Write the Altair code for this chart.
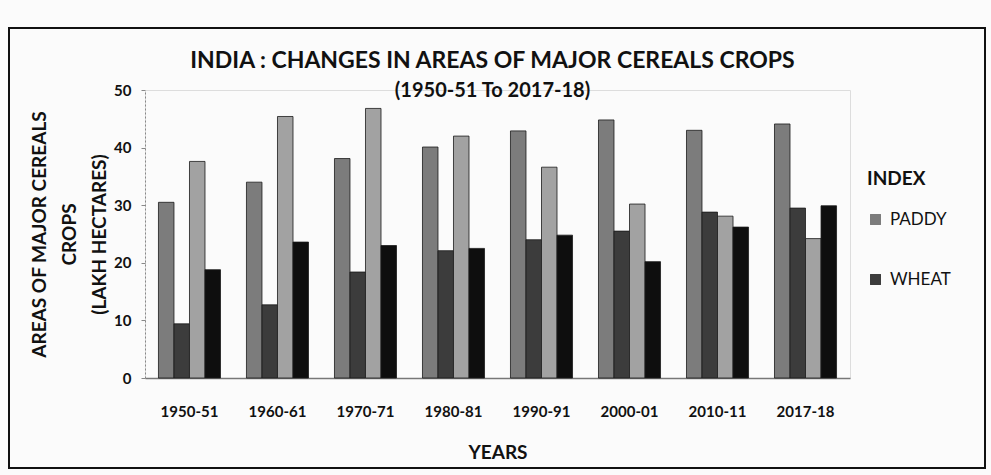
import altair as alt
import pandas as pd

years = ["1950-51", "1960-61", "1970-71", "1980-81", "1990-91", "2000-01", "2010-11", "2017-18"]
series = ["PADDY", "WHEAT", "COARSE CEREALS", "PULSES"]
paddy = [30.5, 34.0, 38.1, 40.1, 42.9, 44.8, 43.0, 44.1]
wheat = [9.4, 12.7, 18.4, 22.1, 24.0, 25.5, 28.8, 29.5]
coarse = [37.6, 45.4, 46.8, 42.0, 36.6, 30.2, 28.1, 24.2]
pulses = [18.8, 23.6, 23.0, 22.5, 24.8, 20.2, 26.2, 29.9]
colors = ["#7c7c7c", "#3c3c3c", "#a2a2a2", "#0e0e0e"]

rows = []
for i, y in enumerate(years):
    for s, vals in zip(series, [paddy, wheat, coarse, pulses]):
        rows.append({"year": y, "crop": s, "area": vals[i]})
df = pd.DataFrame(rows)

FONT = "Lato"

bars = alt.Chart(df).mark_bar(stroke="#1a1a1a", strokeWidth=0.8).encode(
    x=alt.X("year:N", sort=years,
            scale=alt.Scale(paddingInner=0.295, paddingOuter=0.153),
            axis=alt.Axis(title="YEARS", labelAngle=0, labelFont=FONT, labelFontSize=15,
                          labelFontWeight="bold", labelColor="#111", labelPadding=26,
                          ticks=False, domainColor="#777", domainWidth=1.5,
                          titleFont=FONT, titleFontSize=19, titleFontWeight="bold",
                          titleColor="#111", titlePadding=24)),
    xOffset=alt.XOffset("crop:N", scale=alt.Scale(domain=series, paddingInner=0, paddingOuter=0)),
    y=alt.Y("area:Q", scale=alt.Scale(domain=[0, 50]),
            axis=alt.Axis(values=[0, 10, 20, 30, 40, 50], grid=False,
                          title=["AREAS OF MAJOR CEREALS", "CROPS", "(LAKH HECTARES)"],
                          titleFont=FONT, titleFontSize=19, titleFontWeight="bold",
                          titleColor="#111", titleAngle=-90, titleAlign="center",
                          titleBaseline="top", titleX=-115, titleY=144, titleLineHeight=30,
                          labelFont=FONT, labelFontSize=15, labelFontWeight="bold",
                          labelColor="#111", labelPadding=10, tickSize=4, tickColor="#888",
                          domainColor="#888", domainDash=[2, 2])),
    color=alt.Color("crop:N", scale=alt.Scale(domain=series, range=colors),
                    legend=alt.Legend(values=["PADDY", "WHEAT"], title="INDEX",
                                      orient="none", legendX=722, legendY=80,
                                      titleFont=FONT, titleFontSize=19, titleFontWeight="bold",
                                      titleColor="#111", titlePadding=22,
                                      labelFont=FONT, labelFontSize=17, labelColor="#111",
                                      labelFontWeight="normal",
                                      symbolType="square", symbolSize=120, symbolStrokeWidth=0,
                                      symbolOpacity=1,
                                      rowPadding=42, labelOffset=6)),
)

frame = alt.Chart(pd.DataFrame({"a": [0]})).mark_rect(
    fill=None, stroke="#111", strokeWidth=2
).encode(x=alt.value(-136), x2=alt.value(840), y=alt.value(-62), y2=alt.value(378))

chart = alt.layer(frame, bars).properties(
    width=705, height=288,
    autosize=alt.AutoSizeParams(type="none"),
    padding={"left": 145, "top": 90, "right": 141, "bottom": 97},
    title=alt.TitleParams(text="INDIA : CHANGES IN AREAS OF MAJOR CEREALS CROPS",
                          subtitle="(1950-51 To 2017-18)",
                          font=FONT, fontSize=23, fontWeight="bold", color="#111",
                          subtitleFont=FONT, subtitleFontSize=20, subtitleFontWeight="bold",
                          subtitleColor="#111", subtitlePadding=8, anchor="middle",
                          frame="group", dx=-5, offset=-74),
).configure_view(stroke=None).configure(background="#fbfbfb")

chart.save("out.html", embed_options={"renderer": "svg", "actions": False})
